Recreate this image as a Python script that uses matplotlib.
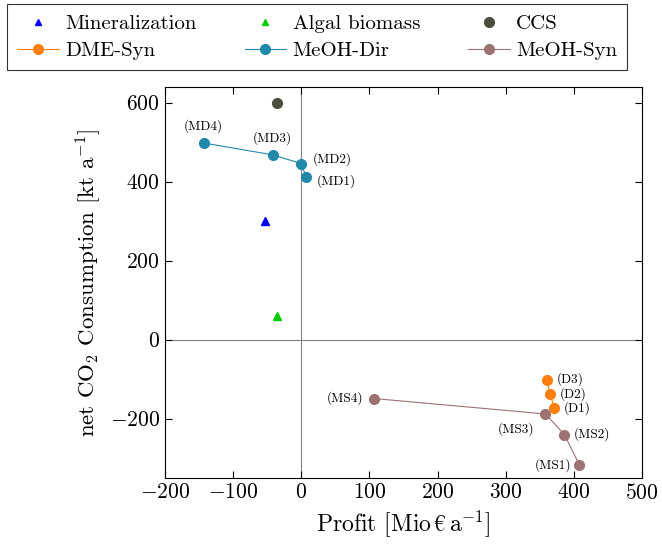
import numpy as np
import matplotlib.pyplot as plt
from matplotlib.lines import Line2D

plt.rcParams['font.family'] = ['cmr10', 'DejaVu Serif']
plt.rcParams['mathtext.fontset'] = 'cm'
plt.rcParams['axes.formatter.use_mathtext'] = True

# Data (profit in Mio EUR/a, net CO2 consumption in kt/a)
min_x, min_y = [-53], [300]
alg_x, alg_y = [-35], [60]
ccs_x, ccs_y = [-35], [600]

dme_labels = ["(D1)", "(D2)", "(D3)"]
dme_x = [371, 365, 360]
dme_y = [-172, -137, -101]

md_labels = ["(MD1)", "(MD2)", "(MD3)", "(MD4)"]
md_x = [7, 0, -42, -143]
md_y = [413, 446, 468, 498]

ms_labels = ["(MS1)", "(MS2)", "(MS3)", "(MS4)"]
ms_x = [408, 386, 358, 107]
ms_y = [-317, -240, -188, -149]

c_min = '#0000ff'
c_alg = '#00cc00'
c_ccs = '#4d4d3f'
c_dme = '#ff7f0e'
c_md = '#2288aa'
c_ms = '#9c7272'

fig = plt.figure(figsize=(6.62, 5.5), dpi=100)
ax = fig.add_axes([0.249, 0.131, 0.721, 0.711])

ax.axhline(0, color='gray', lw=0.8, zorder=0)
ax.axvline(0, color='gray', lw=0.8, zorder=0)

ax.plot(min_x, min_y, '^', color=c_min, ms=6, ls='none')
ax.plot(alg_x, alg_y, '^', color=c_alg, ms=6, ls='none')
ax.plot(ccs_x, ccs_y, 'o', color=c_ccs, ms=7, ls='none')
ax.plot(dme_x, dme_y, 'o-', color=c_dme, ms=7, lw=0.8)
ax.plot(md_x, md_y, 'o-', color=c_md, ms=7, lw=0.8)
ax.plot(ms_x, ms_y, 'o-', color=c_ms, ms=7, lw=0.8)

# point annotations
fs = 9.5
for lab, x, y in zip(dme_labels, dme_x, dme_y):
    ax.annotate(lab, (x, y), xytext=(7, 0), textcoords='offset points',
                ha='left', va='center', fontsize=fs)
md_off = [(8, -3, 'left', 'center'), (8, 3, 'left', 'center'),
          (0, 7, 'center', 'bottom'), (0, 7, 'center', 'bottom')]
for lab, x, y, (dx, dy, ha, va) in zip(md_labels, md_x, md_y, md_off):
    ax.annotate(lab, (x, y), xytext=(dx, dy), textcoords='offset points',
                ha=ha, va=va, fontsize=fs)
ms_off = [(-6, 0, 'right', 'center'), (7, 0, 'left', 'center'),
          (-8, -11, 'right', 'center'), (-8, 0, 'right', 'center')]
for lab, x, y, (dx, dy, ha, va) in zip(ms_labels, ms_x, ms_y, ms_off):
    ax.annotate(lab, (x, y), xytext=(dx, dy), textcoords='offset points',
                ha=ha, va=va, fontsize=fs)

ax.set_xlim(-200, 500)
ax.set_ylim(-350, 640)
ax.set_xticks(np.arange(-200, 501, 100))
ax.set_yticks(np.arange(-200, 601, 200))
ax.tick_params(direction='in', top=True, right=True, labelsize=15.5, length=5)
ax.set_xlabel('Profit [Mio$\\,\u20ac\\,$a$^{-1}$]', fontsize=17)
ax.set_ylabel('net CO$_2$ Consumption [kt a$^{-1}$]', fontsize=16.5)

handles = [
    Line2D([], [], marker='^', color=c_min, ls='none', ms=5),
    Line2D([], [], marker='o', color=c_dme, ms=7, lw=0.8),
    Line2D([], [], marker='^', color=c_alg, ls='none', ms=5),
    Line2D([], [], marker='o', color=c_md, ms=7, lw=0.8),
    Line2D([], [], marker='o', color=c_ccs, ls='none', ms=7),
    Line2D([], [], marker='o', color=c_ms, ms=7, lw=0.8),
]
labels = ['Mineralization', 'DME-Syn', 'Algal biomass', 'MeOH-Dir', 'CCS', 'MeOH-Syn']
leg = fig.legend(handles, labels, ncol=3, loc='upper left',
                 bbox_to_anchor=(7 / 662, 1 - 4 / 550),
                 fontsize=15, frameon=True, fancybox=False, edgecolor='black',
                 borderaxespad=0, handlelength=2.0, labelspacing=0.4,
                 borderpad=0.5, handletextpad=0.3, columnspacing=2.3)
leg.get_frame().set_linewidth(0.8)

fig.savefig('out.png', dpi=100)
